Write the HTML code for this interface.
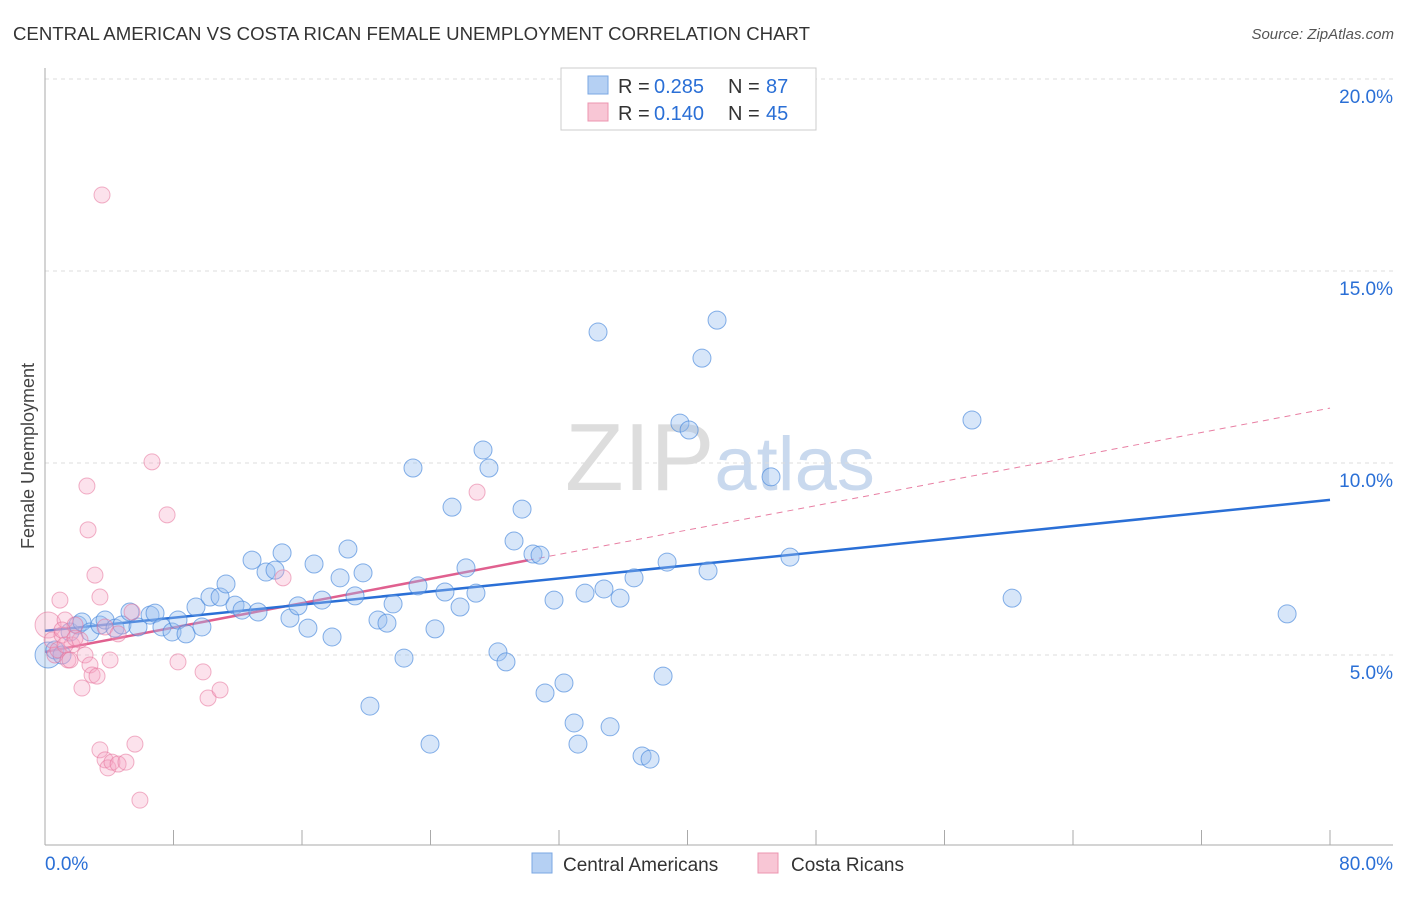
<!DOCTYPE html>
<html><head><meta charset="utf-8"><style>
body{margin:0;background:#fff;font-family:"Liberation Sans",sans-serif;}
svg text{font-family:"Liberation Sans",sans-serif;}
</style></head><body>
<svg id="chart" width="1406" height="892" xmlns="http://www.w3.org/2000/svg">
<text x="13" y="40" font-size="18" fill="#333" textLength="797" lengthAdjust="spacingAndGlyphs">CENTRAL AMERICAN VS COSTA RICAN FEMALE UNEMPLOYMENT CORRELATION CHART</text>
<text x="1394" y="39" font-size="15" fill="#555" text-anchor="end" font-style="italic">Source: ZipAtlas.com</text>
<text x="720" y="490" font-size="96" text-anchor="middle" fill="#ddd" font-family="Liberation Serif"><tspan fill="#ddd">ZIP</tspan><tspan fill="#c9d9ee" font-family="Liberation Sans" font-size="76">atlas</tspan></text>
<text transform="translate(34,456) rotate(-90)" font-size="18" fill="#444" text-anchor="middle">Female Unemployment</text>
<g id="grid"></g><g id="axes"></g><g id="trend"></g><g id="pts"></g>
<g>
<rect x="561" y="68" width="255" height="62" fill="#fff" stroke="#ccc"/>
<rect x="588" y="76" width="20" height="18" fill="#b5d0f3" stroke="#7aa7e3"/>
<rect x="588" y="103" width="20" height="18" fill="#f8c6d5" stroke="#ec95b0"/>
<text x="618" y="93" font-size="20" fill="#333">R =</text>
<text x="654" y="93" font-size="20" fill="#2a6fd6">0.285</text>
<text x="728" y="93" font-size="20" fill="#333">N =</text>
<text x="766" y="93" font-size="20" fill="#2a6fd6">87</text>
<text x="618" y="120" font-size="20" fill="#333">R =</text>
<text x="654" y="120" font-size="20" fill="#2a6fd6">0.140</text>
<text x="728" y="120" font-size="20" fill="#333">N =</text>
<text x="766" y="120" font-size="20" fill="#2a6fd6">45</text>
</g>
<g>
<rect x="532" y="853" width="20" height="20" fill="#b5d0f3" stroke="#7aa7e3"/>
<text x="563" y="871" font-size="19" fill="#333">Central Americans</text>
<rect x="758" y="853" width="20" height="20" fill="#f8c6d5" stroke="#ec95b0"/>
<text x="791" y="871" font-size="19" fill="#333">Costa Ricans</text>
</g>
</svg>
<script>
const blueX=[0.19,0.62,1.06,1.56,2.05,2.30,2.80,3.42,3.74,4.36,4.79,5.29,5.79,6.54,6.85,7.28,7.91,8.28,8.78,9.40,9.77,10.27,10.90,11.27,11.83,12.27,12.89,13.26,13.76,14.32,14.76,15.25,15.75,16.37,16.75,17.25,17.87,18.37,18.86,19.30,19.80,20.23,20.73,21.29,21.67,22.35,22.91,23.22,23.97,24.28,24.90,25.34,25.84,26.21,26.83,27.27,27.64,28.20,28.70,29.20,29.70,30.38,30.82,31.13,31.69,32.31,32.94,33.18,33.62,34.43,34.80,35.18,35.80,36.67,37.17,37.67,38.48,38.73,39.53,40.10,40.90,41.28,41.84,45.20,46.38,57.71,60.21,77.33];
const blueY=[5.0,5.13,5.0,5.6,5.78,5.86,5.6,5.78,5.91,5.70,5.78,6.12,5.73,6.04,6.09,5.73,5.60,5.91,5.55,6.25,5.73,6.51,6.51,6.85,6.30,6.17,7.47,6.12,7.16,7.21,7.66,5.96,6.28,5.70,7.37,6.43,5.47,7.01,7.76,6.54,7.14,3.67,5.91,5.83,6.33,4.92,9.87,6.80,2.68,5.68,6.64,8.85,6.25,7.27,6.61,10.34,9.87,5.08,4.82,7.97,8.80,7.63,7.60,4.01,6.43,4.27,3.23,2.68,6.61,13.41,6.72,3.13,6.48,7.01,2.37,2.29,4.45,7.42,11.04,10.86,12.73,7.19,13.72,9.64,7.55,11.12,6.48,6.07];
const pinkX=[0.19,0.44,0.62,0.81,1.06,1.25,1.43,1.68,1.87,2.18,2.49,2.68,2.80,2.93,3.11,3.42,3.74,4.05,0.93,1.06,1.25,1.56,3.42,3.74,3.92,4.17,4.55,5.04,5.60,5.91,5.42,4.55,6.66,7.60,8.28,9.84,10.15,10.90,14.82,26.90,3.55,2.30,3.24,2.61,1.87];
const pinkY=[5.78,5.39,5.0,5.13,5.52,5.91,4.87,5.26,5.78,5.39,5.0,8.26,4.74,4.48,7.08,6.51,5.73,4.87,6.43,5.65,5.26,4.87,2.53,2.27,2.06,2.21,2.16,2.21,2.68,1.22,6.12,5.55,10.03,8.65,4.82,4.56,3.88,4.09,7.01,9.24,16.98,4.14,4.45,9.40,5.44];
const yTicks=[5,10,15,20];
const blueTrend=[5.63,9.04];
const pinkTrend=[5.08,11.43];
const pinkSolidEnd=30.07;
const NS="http://www.w3.org/2000/svg";
const X=v=>45+v/80*1285, Y=v=>847-v*38.4;
function mk(tag,attrs,parent){const e=document.createElementNS(NS,tag);for(const k in attrs)e.setAttribute(k,attrs[k]);document.getElementById(parent).appendChild(e);return e;}
yTicks.forEach(t=>{
 const l=mk('line',{x1:45,x2:1393,y1:Y(t),y2:Y(t),stroke:'#ddd','stroke-dasharray':'4,4'},'grid');
 
 
 const tx=mk('text',{x:1393,y:Y(t)+24,'font-size':19,fill:'#2a6fd6','text-anchor':'end'},'grid');tx.textContent=t.toFixed(1)+'%';
 
 
});
mk('line',{x1:45,x2:45,y1:68,y2:845,stroke:'#aaa'},'axes');
mk('line',{x1:45,x2:1393,y1:845,y2:845,stroke:'#aaa'},'axes');
for(let i=0;i<=10;i++){mk('line',{x1:X(i*8),x2:X(i*8),y1:830,y2:845,stroke:'#aaa'},'axes');}
let t0=mk('text',{x:45,y:870,'font-size':19,fill:'#2a6fd6'},'axes');t0.textContent='0.0%';


let t1=mk('text',{x:1393,y:870,'font-size':19,fill:'#2a6fd6','text-anchor':'end'},'axes');t1.textContent='80.0%';


blueX.forEach((x,i)=>{const c=mk('circle',{cx:X(x),cy:Y(blueY[i]),r:i==0?13:9,fill:'rgba(150,188,238,0.38)',stroke:'rgba(70,135,220,0.65)','stroke-width':1},'pts');
 
 });
pinkX.forEach((x,i)=>{const c=mk('circle',{cx:X(x),cy:Y(pinkY[i]),r:i==0?13:8,fill:'rgba(245,165,195,0.32)',stroke:'rgba(230,115,155,0.55)','stroke-width':1},'pts');
 
 });
const pAt=x=>pinkTrend[0]+(pinkTrend[1]-pinkTrend[0])*x/80;
let pd=mk('line',{x1:X(pinkSolidEnd),y1:Y(pAt(pinkSolidEnd)),x2:X(80),y2:Y(pinkTrend[1]),stroke:'#e87fa3','stroke-dasharray':'6,5','stroke-width':1},'trend');


let ps=mk('line',{x1:X(0),y1:Y(pinkTrend[0]),x2:X(pinkSolidEnd),y2:Y(pAt(pinkSolidEnd)),stroke:'#e0608f','stroke-width':2.5},'trend');


let bl=mk('line',{x1:X(0),y1:Y(blueTrend[0]),x2:X(80),y2:Y(blueTrend[1]),stroke:'#2a6fd6','stroke-width':2.5},'trend');


</script>
</body></html>
